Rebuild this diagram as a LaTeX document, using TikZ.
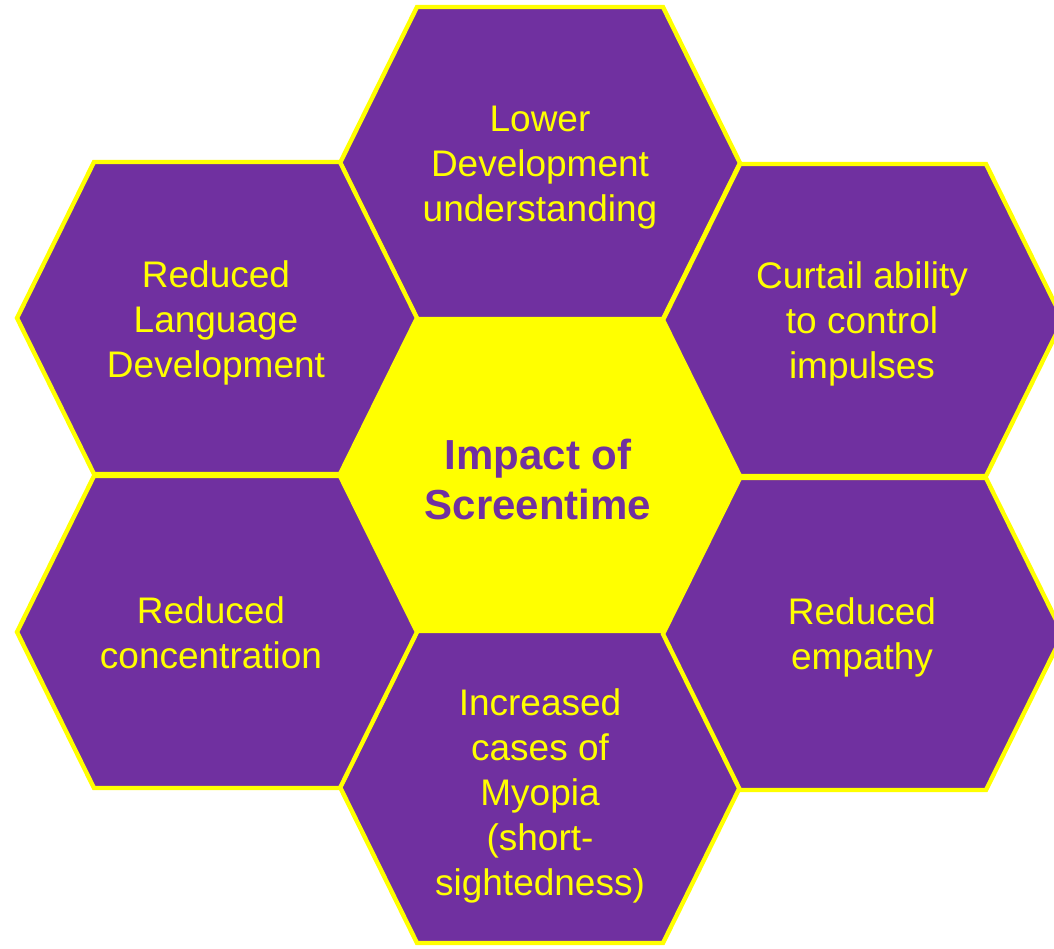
\documentclass[tikz,border=0pt]{standalone}
\usepackage{fontspec}
\setmainfont{Liberation Sans}
\usetikzlibrary{positioning}
\definecolor{hexpurple}{RGB}{112,48,160}
\definecolor{hexyellow}{RGB}{255,255,0}
\tikzset{cell/.style={draw=hexyellow, line width=2.2pt, line join=miter},
         celltext/.style={text=hexyellow, align=center, font=\fontsize{18.5}{22.5}\selectfont},
         hubtext/.style={text=hexpurple, align=center, font=\bfseries\fontsize{21}{25}\selectfont}
}

\begin{document}
\begin{tikzpicture}[x=0.5pt,y=-0.5pt]
      \clip (0,0) rectangle (1054,948);
      % the seven cells
      \foreach \cx/\cy/\col in {540/475/hexyellow, 540/163/hexpurple, 540/787/hexpurple,
                                217/318/hexpurple, 217/632/hexpurple, 863/320/hexpurple, 863/634/hexpurple}
        \draw[cell, fill=\col] (\cx-200,\cy) -- (\cx-123,\cy-156) -- (\cx+123,\cy-156)
              -- (\cx+200,\cy) -- (\cx+123,\cy+156) -- (\cx-123,\cy+156) -- cycle;
      \node[hubtext] (hub) at (538,479) {Impact of\\Screentime};
      \node[celltext] (lowerdev) at (540,168) {Lower\\Development\\understanding};
      \node[celltext] (language) at (216,323) {Reduced\\Language\\Development};
      \node[celltext] (impulse) at (862,324) {Curtail ability\\to control\\impulses};
      \node[celltext] (focus) at (211,633) {Reduced\\concentration};
      \node[celltext] (empathy) at (862,637) {Reduced\\empathy};
      \node[celltext] (myopia) at (540,796) {Increased\\cases of\\Myopia\\(short-\\sightedness)};
\end{tikzpicture}
\end{document}
